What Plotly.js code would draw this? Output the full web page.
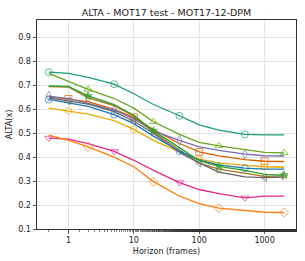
<!DOCTYPE html>
<html>
<head>
<meta charset="utf-8">
<script src="https://cdn.plot.ly/plotly-3.0.1.min.js"></script>
<style>html,body{margin:0;padding:0;background:#fff;}#chart{width:305px;height:261px;}</style>
</head>
<body>
<div id="chart"></div>
<script>
const horizons = [0.5, 1, 2, 5, 10, 20, 50, 100, 200, 500, 1000, 2000];

const teal    = [0.755, 0.750, 0.733, 0.705, 0.665, 0.620, 0.573, 0.535, 0.513, 0.495, 0.493, 0.493];
const orangeSq= [0.652, 0.643, 0.632, 0.600, 0.566, 0.515, 0.457, 0.422, 0.405, 0.390, 0.383, 0.382];
const purple  = [0.655, 0.645, 0.625, 0.597, 0.560, 0.510, 0.470, 0.443, 0.428, 0.413, 0.406, 0.405];
const pink    = [0.480, 0.475, 0.457, 0.424, 0.387, 0.345, 0.294, 0.265, 0.248, 0.230, 0.237, 0.237];
const lgreen  = [0.750, 0.715, 0.683, 0.645, 0.605, 0.548, 0.495, 0.462, 0.447, 0.432, 0.420, 0.418];
const gold    = [0.605, 0.594, 0.580, 0.553, 0.516, 0.470, 0.422, 0.392, 0.376, 0.366, 0.360, 0.358];
const brown   = [0.695, 0.693, 0.648, 0.615, 0.572, 0.505, 0.430, 0.375, 0.350, 0.332, 0.320, 0.322];
const gray    = [0.648, 0.635, 0.622, 0.590, 0.550, 0.500, 0.420, 0.376, 0.338, 0.318, 0.315, 0.317];
const blue    = [0.641, 0.628, 0.612, 0.578, 0.540, 0.488, 0.425, 0.388, 0.368, 0.354, 0.350, 0.350];
const lorange = [0.492, 0.470, 0.443, 0.400, 0.360, 0.298, 0.237, 0.206, 0.187, 0.176, 0.170, 0.169];
const green   = [0.698, 0.696, 0.656, 0.620, 0.575, 0.510, 0.440, 0.385, 0.362, 0.345, 0.328, 0.325];

const yTicks = [0.1, 0.2, 0.3, 0.4, 0.5, 0.6, 0.7, 0.8, 0.9];
const yTickText = ['0.1', '0.2', '0.3', '0.4', '0.5', '0.6', '0.7', '0.8', '0.9'];
const xTicks = [1, 10, 100, 1000];
const xTickText = ['1', '10', '100', '1000'];

const series = [
  {y: teal,     color: '#1b9e77', symbol: 'circle-open',         off: 0, size: 7},
  {y: orangeSq, color: '#d95f02', symbol: 'square-open',         off: 1, size: 7},
  {y: purple,   color: '#7570b3', symbol: 'diamond-tall-open',   off: 0, size: 7},
  {y: pink,     color: '#e7298a', symbol: 'triangle-down-open',  off: 0, size: 7},
  {y: lgreen,   color: '#66a61e', symbol: 'triangle-up-open',    off: 2, size: 7},
  {y: gold,     color: '#e6ab02', symbol: 'hexagon-open',        off: 1, size: 7},
  {y: brown,    color: '#a6761d', symbol: 'triangle-right-open', off: 2, size: 7},
  {y: gray,     color: '#666666', symbol: 'triangle-left-open',  off: 1, size: 7},
  {y: blue,     color: '#1f77b4', symbol: 'circle-open',         off: 0, size: 7},
  {y: lorange,  color: '#ff7f0e', symbol: 'diamond-open',        off: 2, size: 7},
  {y: green,    color: '#2ca02c', symbol: 'star',                off: 2, size: 6}
];

const traces = series.map(s => ({
  type: 'scatter', mode: 'lines+markers',
  x: horizons, y: s.y,
  line: {color: s.color, width: 1.3},
  marker: {
    symbol: s.symbol, color: s.color,
    size: horizons.map((_, i) => (i % 3 === s.off ? s.size : 0)),
    line: {color: s.color, width: 1}
  },
  showlegend: false, hoverinfo: 'skip'
}));

const font = {family: 'DejaVu Sans, sans-serif', color: '#222', size: 8};

const layout = {
  width: 305, height: 261,
  margin: {l: 37, r: 9, t: 20, b: 32},
  paper_bgcolor: '#fff', plot_bgcolor: '#fff',
  font: font,
  title: {text: 'ALTA - MOT17 test - MOT17-12-DPM', font: {family: 'DejaVu Sans, sans-serif', size: 9.5, color: '#222'}, x: 0.546, xanchor: 'center', y: 0.953, yanchor: 'middle'},
  xaxis: {
    type: 'log', range: [-0.481, 3.481],
    tickvals: xTicks, ticktext: xTickText,
    ticks: 'outside', ticklen: 3.5, tickcolor: '#333', tickwidth: 0.8,
    showgrid: true, gridcolor: '#e3e3e3', gridwidth: 1,
    showline: true, linecolor: '#333', linewidth: 1, mirror: true,
    zeroline: false,
    minor: {ticks: 'outside', ticklen: 2, tickcolor: '#333', tickwidth: 0.6, showgrid: false},
    title: {text: 'Horizon (frames)', font: font, standoff: 4},
    tickfont: font
  },
  yaxis: {
    range: [0.1, 0.973],
    tickvals: yTicks, ticktext: yTickText,
    ticks: 'outside', ticklen: 3.5, tickcolor: '#333', tickwidth: 0.8,
    showgrid: true, gridcolor: '#e3e3e3', gridwidth: 1,
    showline: true, linecolor: '#333', linewidth: 1, mirror: true,
    zeroline: false,
    title: {text: 'ALTA(x)', font: font, standoff: 4},
    tickfont: font
  }
};

Plotly.newPlot('chart', traces, layout, {staticPlot: true, displayModeBar: false});
</script>
</body>
</html>
